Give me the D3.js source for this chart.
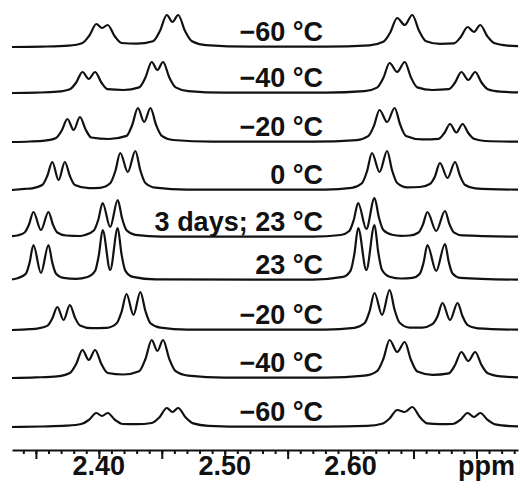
<!DOCTYPE html>
<html>
<head>
<meta charset="utf-8">
<script src="https://cdn.jsdelivr.net/npm/d3@7"></script>
<style>
  body { margin: 0; background: #fff; }
  .trace { fill: none; stroke: #111; stroke-width: 2.2; stroke-linejoin: round; }
  .lbl { font-family: "Liberation Sans", Arial, sans-serif; font-weight: bold; font-size: 27px; fill: #111; }
  .axis path, .axis line { stroke: #111; stroke-width: 2; }
</style>
</head>
<body>
<div id="chart"></div>
<script>
// labels of the stacked spectra, top to bottom
var labels = ["\u221260 \u00B0C", "\u221240 \u00B0C", "\u221220 \u00B0C", "0 \u00B0C", "3 days; 23 \u00B0C",
              "23 \u00B0C", "\u221220 \u00B0C", "\u221240 \u00B0C", "\u221260 \u00B0C"];
// vertical stacking offset of each spectrum (intensity units)
var offsets = [403, 357, 308, 260, 213, 170, 120, 72, 23];

// spectra: [ppm, intensity]
var t1 = [[2.331,0],[2.355,0.4],[2.376,1.4],[2.387,4.1],[2.3925,11.5],[2.398,23],[2.4025,19],[2.407,22],[2.4125,11],[2.418,4],[2.430,3.3],
  [2.443,5.8],[2.4485,16],[2.454,32],[2.4585,25],[2.463,32],[2.4685,16],[2.474,5.8],[2.485,1.9],[2.52,0.3],[2.58,0.3],
  [2.615,1.7],[2.626,5.2],[2.6315,14.5],[2.637,29],[2.643,22],[2.649,32],[2.6545,16],[2.660,5.8],[2.671,3.2],
  [2.682,3.6],[2.6875,10],[2.693,20],[2.698,15],[2.703,22],[2.7085,11],[2.714,4],[2.725,1.3],[2.733,0.8]];
var t2 = [[2.331,0],[2.35,0.4],[2.367,1.3],[2.377,3.8],[2.382,10.5],[2.387,21],[2.392,14],[2.397,21],[2.402,10.5],[2.407,3.8],[2.4195,3],
  [2.432,5.6],[2.437,15.5],[2.442,31],[2.4465,23],[2.451,31],[2.456,15.5],[2.461,5.6],[2.471,1.9],[2.50,0.3],[2.58,0.3],
  [2.611,1.8],[2.621,5.4],[2.626,15],[2.631,30],[2.637,21],[2.643,31],[2.648,15.5],[2.653,5.6],[2.665,3],
  [2.678,3.8],[2.683,10.5],[2.688,21],[2.6935,13],[2.699,21],[2.704,10.5],[2.709,3.8],[2.719,1.3],[2.733,0.6]];
var t3 = [[2.331,0],[2.345,0.5],[2.357,1.4],[2.366,4.1],[2.3705,11.5],[2.375,23],[2.380,12],[2.385,25],[2.3895,12.5],[2.394,4.5],[2.408,3],
  [2.422,6.1],[2.4265,17],[2.431,34],[2.436,20],[2.441,34],[2.4455,17],[2.450,6.1],[2.459,2],[2.49,0.4],[2.57,0.3],
  [2.605,1.9],[2.614,5.8],[2.6185,16],[2.623,32],[2.629,20],[2.635,34],[2.6395,17],[2.644,6.1],[2.657,2.6],
  [2.670,3.2],[2.6745,9],[2.679,18],[2.684,9.5],[2.689,18],[2.6935,9],[2.698,3.2],[2.707,1],[2.733,0.3]];
var t4 = [[2.331,0],[2.341,1.1],[2.347,1.7],[2.355,5],[2.359,14],[2.363,28],[2.368,10],[2.373,28],[2.377,14],[2.381,5],[2.392,1.8],
  [2.401,2.2],[2.409,6.7],[2.413,18.5],[2.417,37],[2.423,18],[2.429,39],[2.433,19.5],[2.437,7],[2.445,2.3],[2.47,0.4],[2.58,0.4],
  [2.601,2.2],[2.609,6.7],[2.613,18.5],[2.617,37],[2.623,18],[2.629,39],[2.633,19.5],[2.637,7],[2.645,2.6],[2.655,3],
  [2.663,6],[2.667,13.5],[2.671,27],[2.677,12],[2.683,28],[2.687,14],[2.691,5],[2.699,1.7],[2.733,0.3]];
var t5 = [[2.331,0.8],[2.336,1.8],[2.341,4.5],[2.3445,12.5],[2.348,25],[2.354,7],[2.360,25],[2.3635,12.5],[2.367,4.5],[2.374,1.5],[2.385,1],
  [2.389,2],[2.396,6.5],[2.3995,17],[2.403,34],[2.409,10],[2.415,37],[2.4185,18.5],[2.422,6.7],[2.429,2.2],[2.45,0.4],[2.57,0.3],
  [2.592,2],[2.599,6],[2.6025,17],[2.606,34],[2.6125,8],[2.619,39],[2.6225,19.5],[2.626,7],[2.633,2.3],[2.64,1.2],
  [2.647,1.5],[2.654,4.5],[2.6575,12.5],[2.661,25],[2.668,6],[2.675,26],[2.6785,13],[2.682,4.7],[2.689,1.6],[2.733,0.3]];
var t6 = [[2.331,0.5],[2.336,2.1],[2.342,6.3],[2.345,17.5],[2.348,35],[2.354,7],[2.360,35],[2.363,17.5],[2.366,6.3],[2.372,2.1],[2.382,1.2],
  [2.391,3],[2.397,9],[2.400,25],[2.403,50],[2.409,10],[2.415,52],[2.418,26],[2.421,9.4],[2.427,3.1],[2.445,0.6],[2.57,0.4],
  [2.594,3.1],[2.600,9.4],[2.603,26],[2.606,52],[2.6125,10],[2.619,55],[2.622,27.5],[2.625,10],[2.631,3.3],[2.640,1.5],
  [2.649,2.1],[2.655,6.3],[2.658,17.5],[2.661,35],[2.668,9],[2.675,36],[2.678,18],[2.681,6.5],[2.687,2.2],[2.733,0.3]];
var t7 = [[2.331,0],[2.345,0.8],[2.351,1.4],[2.359,4.1],[2.363,11.5],[2.367,23],[2.372,10],[2.377,25],[2.381,12.5],[2.385,4.5],[2.394,1.8],
  [2.406,2.2],[2.414,6.5],[2.418,18],[2.422,36],[2.4275,15],[2.433,38],[2.437,19],[2.441,6.8],[2.449,2.3],[2.47,0.4],[2.58,0.4],
  [2.603,2.2],[2.611,6.7],[2.615,18.5],[2.619,37],[2.625,15],[2.631,40],[2.635,20],[2.639,7.2],[2.647,2.4],[2.657,2.4],
  [2.665,5.8],[2.669,13.5],[2.673,27],[2.679,10],[2.685,27],[2.689,13.5],[2.693,4.9],[2.701,1.6],[2.733,0.3]];
var t8 = [[2.331,0],[2.35,0.6],[2.367,1.7],[2.377,5],[2.382,14],[2.387,28],[2.392,18],[2.397,28],[2.402,14],[2.407,5],[2.4195,3.5],
  [2.432,6.8],[2.437,19],[2.442,38],[2.4465,27],[2.451,38],[2.456,19],[2.461,6.8],[2.471,2.3],[2.50,0.4],[2.58,0.4],
  [2.611,2.3],[2.621,6.8],[2.626,19],[2.631,38],[2.637,26],[2.643,36],[2.648,18],[2.653,6.5],[2.665,3.2],
  [2.678,4.7],[2.683,13],[2.688,26],[2.6935,17],[2.699,26],[2.704,13],[2.709,4.7],[2.719,1.6],[2.733,0.7]];
var t9 = [[2.331,0],[2.355,0.5],[2.374,1.3],[2.386,3],[2.392,7],[2.398,14],[2.4025,11],[2.407,14],[2.413,7],[2.419,3],[2.430,2.8],
  [2.442,4],[2.448,9.5],[2.454,19],[2.4585,15],[2.463,19],[2.469,9.5],[2.475,3.6],[2.487,1.2],[2.52,0.3],[2.58,0.3],
  [2.613,1.1],[2.625,3.2],[2.631,8.5],[2.637,17],[2.643,15],[2.649,20],[2.655,10],[2.661,3.6],[2.671,2.8],
  [2.681,3],[2.687,7],[2.693,14],[2.698,10],[2.703,14],[2.709,7],[2.715,2.6],[2.727,0.9],[2.733,0.7]];
var traces = [t1, t2, t3, t4, t5, t6, t7, t8, t9];

// axis ticks
var labelTicks = [2.40, 2.50, 2.60];
var majorTicks = [2.35, 2.40, 2.45, 2.50, 2.55, 2.60, 2.65, 2.70];
var minorTicks = d3.range(234, 274).map(function(d) { return d / 100; });
var axisTitle = "ppm";

var width = 520, height = 490;

var svg = d3.select("#chart").append("svg")
    .attr("width", width)
    .attr("height", height);

var x = d3.scaleLinear()
    .domain([2.331, 2.733])
    .range([12, 518]);

var y = d3.scaleLinear()
    .domain([0, 450])
    .range([450, 0]);

// one line per spectrum, shifted by its offset
traces.forEach(function(tr, i) {
    var line = d3.line()
        .x(function(d) { return x(d[0]); })
        .y(function(d) { return y(d[1] + offsets[i]); })
        .curve(d3.curveMonotoneX);

    svg.append("path")
        .datum(tr)
        .attr("class", "trace")
        .attr("d", line);

    svg.append("text")
        .attr("class", "lbl")
        .attr("text-anchor", "end")
        .attr("x", 323)
        .attr("y", y(offsets[i]) - 6)
        .text(labels[i]);
});

// x axis: minor ticks, major ticks, then labels
svg.append("g")
    .attr("class", "axis")
    .attr("transform", "translate(0,450)")
    .call(d3.axisBottom(x).tickValues(minorTicks).tickSize(4).tickSizeOuter(0).tickFormat(""));

var majAxis = svg.append("g")
    .attr("class", "axis")
    .attr("transform", "translate(0,450)")
    .call(d3.axisBottom(x).tickValues(majorTicks).tickSize(9).tickSizeOuter(0).tickFormat(""));
majAxis.select(".domain").remove();

labelTicks.forEach(function(t) {
    svg.append("text")
        .attr("class", "lbl")
        .attr("text-anchor", "middle")
        .attr("x", x(t))
        .attr("y", 475)
        .text(d3.format(".2f")(t));
});

svg.append("text")
    .attr("class", "lbl")
    .attr("text-anchor", "end")
    .attr("x", 515)
    .attr("y", 475)
    .text(axisTitle);
</script>
</body>
</html>
